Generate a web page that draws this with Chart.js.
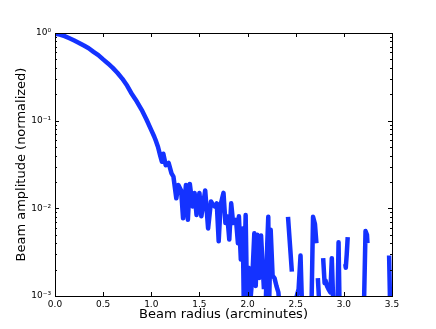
<!DOCTYPE html>
<html>
<head>
<meta charset="utf-8">
<script src="https://cdn.jsdelivr.net/npm/chart.js@4"></script>
<style>
  html, body { margin: 0; padding: 0; background: #ffffff; }
  #wrap { width: 436px; height: 329px; }
</style>
</head>
<body>
<div id="wrap"><canvas id="beamChart" width="436" height="329"></canvas></div>
<script>
// Data (null = masked / non-positive sample)
const radius = [
  0.00, 0.05, 0.10, 0.15, 0.20, 0.25, 0.30, 0.35, 0.40, 0.45,
  0.50, 0.55, 0.60, 0.65, 0.70, 0.75, 0.80, 0.85, 0.90, 0.95,
  1.00, 1.03, 1.05, 1.07, 1.09, 1.11, 1.125, 1.15, 1.18, 1.21,
  1.23, 1.26, 1.28, 1.31, 1.33, 1.36, 1.38, 1.40, 1.43, 1.45,
  1.47, 1.50, 1.52, 1.56, 1.59, 1.62, 1.64, 1.66, 1.68, 1.70,
  1.72, 1.75, 1.77, 1.79, 1.81, 1.83, 1.85, 1.88, 1.90, 1.91,
  1.93, 1.95, 1.96, 1.98, 1.995, 2.01, 2.03, 2.05, 2.07, 2.085,
  2.10, 2.12, 2.14, 2.16, 2.17, 2.18, 2.19, 2.205, 2.215, 2.225,
  2.24, 2.26, 2.28, 2.30, 2.32, 2.33, 2.35, 2.42, 2.46, 2.47,
  2.50, 2.53, 2.55, 2.565, 2.58, 2.665, 2.68, 2.70, 2.715, 2.72,
  2.73, 2.745, 2.76, 2.785, 2.80, 2.81, 2.825, 2.84, 2.86, 2.875,
  2.89, 2.90, 2.935, 2.945, 2.955, 2.97, 3.015, 3.02, 3.03, 3.04,
  3.05, 3.21, 3.225, 3.24, 3.245, 3.25, 3.47, 3.48, 3.49
];
const amplitude = [
  0.98, 0.96, 0.92, 0.87, 0.82, 0.77, 0.72, 0.67, 0.61, 0.56,
  0.50, 0.45, 0.40, 0.35, 0.30, 0.25, 0.20, 0.165, 0.133, 0.103,
  0.078, 0.066, 0.058, 0.050, 0.041, 0.034, 0.042, 0.031, 0.033, 0.025,
  0.023, 0.013, 0.0185, 0.016, 0.0077, 0.0185, 0.0074, 0.019, 0.0105, 0.015,
  0.0084, 0.015, 0.0081, 0.016, 0.0059, 0.012, 0.011, 0.0105, 0.0114, 0.0042,
  0.011, 0.015, 0.0068, 0.0081, 0.0044, 0.0114, 0.0068, 0.0074, 0.0040, 0.0081,
  0.0026, 0.0059, 0.0009, 0.0084, 0.0008, 0.0021, 0.0009, 0.0017, 0.0052, 0.0013,
  0.0050, 0.0016, 0.0049, 0.0019, 0.0012, null, 0.0009, 0.0041, 0.0080, 0.0009,
  0.0057, 0.0017, 0.0016, 0.0013, 0.0011, 0.0008, null, 0.0080, 0.0019, null,
  0.0009, 0.0012, 0.0029, 0.0008, null, 0.0009, 0.0080, 0.0066, 0.0040, null,
  0.0016, 0.0008, null, 0.0027, 0.0014, 0.0015, 0.0013, 0.0012, 0.0011, 0.0027,
  0.0008, null, 0.0009, 0.0041, 0.0008, null, 0.0023, 0.0021, 0.0030, 0.0047,
  null, 0.0009, 0.0055, 0.0050, 0.0040, null, 0.0029, 0.0008, null
];

// Axis ticks
const yTicks = [0.001, 0.01, 0.1, 1];
const yTickLabels = ['10\u207B\u00B3', '10\u207B\u00B2', '10\u207B\u00B9', '10\u2070'];
const xTicks = [0.0, 0.5, 1.0, 1.5, 2.0, 2.5, 3.0, 3.5];

const FONT = "'DejaVu Sans', sans-serif";

// inward matplotlib-style ticks + frame
const frameTicks = {
  id: 'frameTicks',
  afterDraw(chart) {
    const { ctx, chartArea: a, scales } = chart;
    const xs = scales.x, ys = scales.y;
    ctx.save();
    ctx.strokeStyle = '#000000';
    ctx.lineWidth = 1;
    ctx.beginPath();
    xTicks.forEach(v => {
      const px = Math.round(xs.getPixelForValue(v)) + 0.5;
      ctx.moveTo(px, a.bottom); ctx.lineTo(px, a.bottom - 4);
      ctx.moveTo(px, a.top); ctx.lineTo(px, a.top + 4);
    });
    yTicks.forEach(v => {
      const py = Math.round(ys.getPixelForValue(v)) + 0.5;
      ctx.moveTo(a.left, py); ctx.lineTo(a.left + 4, py);
      ctx.moveTo(a.right, py); ctx.lineTo(a.right - 4, py);
      if (v < 1) {
        for (let m = 2; m <= 9; m++) {
          const pm = Math.round(ys.getPixelForValue(v * m)) + 0.5;
          ctx.moveTo(a.left, pm); ctx.lineTo(a.left + 2, pm);
          ctx.moveTo(a.right, pm); ctx.lineTo(a.right - 2, pm);
        }
      }
    });
    ctx.stroke();
    ctx.strokeRect(Math.round(a.left) + 0.5, Math.round(a.top) + 0.5,
      Math.round(a.right - a.left), Math.round(a.bottom - a.top));
    ctx.restore();
  }
};

const ctx = document.getElementById('beamChart').getContext('2d');
new Chart(ctx, {
  type: 'line',
  data: {
    datasets: [{
      data: radius.map((r, i) => ({ x: r, y: amplitude[i] })),
      borderColor: '#1432ff',
      borderWidth: 4.5,
      borderJoinStyle: 'round',
      pointRadius: 0,
      tension: 0,
      spanGaps: false,
      clip: 0
    }]
  },
  options: {
    responsive: false,
    animation: false,
    layout: { padding: { top: 33, right: 44, left: 0, bottom: 0 } },
    plugins: { legend: { display: false }, tooltip: { enabled: false } },
    scales: {
      x: {
        type: 'linear',
        min: 0, max: 3.5,
        afterBuildTicks: s => { s.ticks = xTicks.map(v => ({ value: v })); },
        afterFit: s => { s.height = 33; },
        grid: { display: false, drawTicks: false },
        border: { display: false },
        ticks: {
          padding: 3,
          color: '#000000',
          font: { family: FONT, size: 9 },
          callback: v => Number(v).toFixed(1),
          maxRotation: 0
        },
        title: {
          display: true,
          text: 'Beam radius (arcminutes)',
          color: '#000000',
          font: { family: FONT, size: 13 },
          padding: { top: 0, bottom: 7 }
        }
      },
      y: {
        type: 'logarithmic',
        min: 0.001, max: 1,
        afterBuildTicks: s => { s.ticks = yTicks.map(v => ({ value: v })); },
        afterFit: s => { s.width = 55; },
        grid: { display: false, drawTicks: false },
        border: { display: false },
        ticks: {
          padding: 4,
          color: '#000000',
          font: { family: FONT, size: 9 },
          callback: v => yTickLabels[yTicks.findIndex(t => Math.abs(t - v) < t * 1e-6)]
        },
        title: {
          display: true,
          text: 'Beam amplitude (normalized)',
          color: '#000000',
          font: { family: FONT, size: 13 },
          padding: { top: 14, bottom: 0 }
        }
      }
    }
  },
  plugins: [frameTicks]
});
</script>
</body>
</html>
